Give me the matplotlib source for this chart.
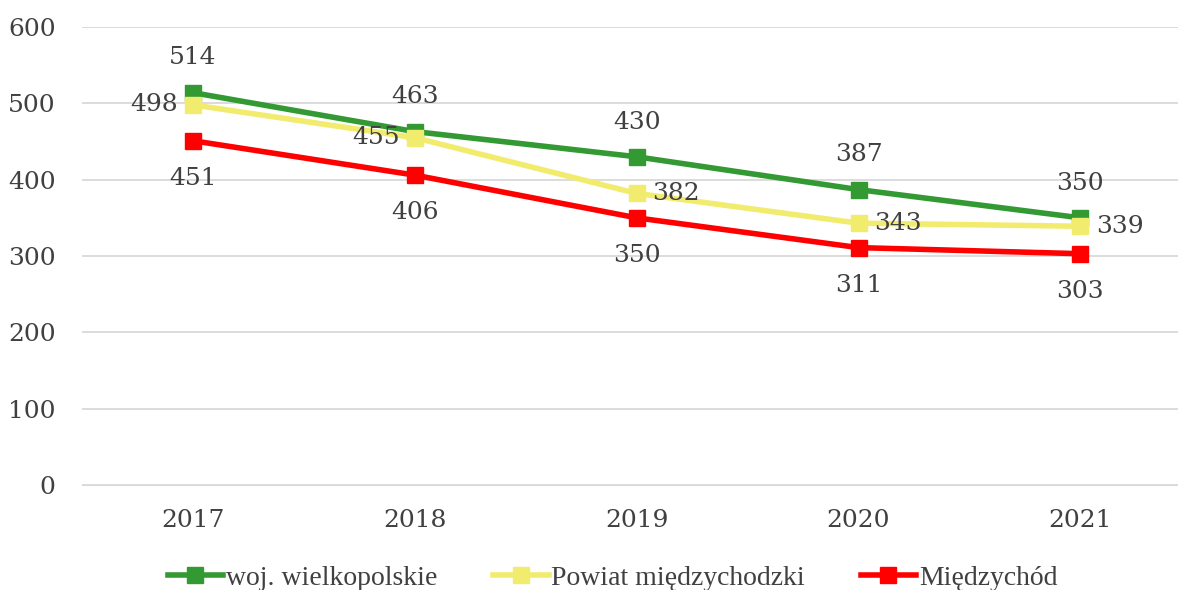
import numpy as np
import matplotlib.pyplot as plt

years = ['2017', '2018', '2019', '2020', '2021']
woj = [514, 463, 430, 387, 350]
powiat = [498, 455, 382, 343, 339]
miedzychod = [451, 406, 350, 311, 303]
series_names = ['woj. wielkopolskie', 'Powiat międzychodzki', 'Międzychód']

plt.rcParams['font.family'] = ['DejaVu Serif']
text_color = '#404040'
fs = 18

fig = plt.figure(figsize=(11.78, 5.9), dpi=100)
ax = fig.add_axes([82 / 1178, 1 - 485 / 590, 1 - 82 / 1178, (485 - 27) / 590])

x = np.arange(len(years))
colors = ['#339933', '#F2EC6E', '#FF0000']
data = [woj, powiat, miedzychod]
for vals, col, name in zip(data, colors, series_names):
    ax.plot(x, vals, color=col, lw=4, marker='s', ms=11, label=name, zorder=3)

# labels: green above, red below, yellow left/right
for a, b in zip(x, woj):
    ax.annotate(str(b), (a, b), xytext=(0, 25), textcoords='offset points',
                ha='center', va='center', fontsize=fs, color=text_color)
for a, b in zip(x, miedzychod):
    ax.annotate(str(b), (a, b), xytext=(0, -27), textcoords='offset points',
                ha='center', va='center', fontsize=fs, color=text_color)
for i, (a, b) in enumerate(zip(x, powiat)):
    if i < 2:
        ax.annotate(str(b), (a, b), xytext=(-11, 0), textcoords='offset points',
                    ha='right', va='center', fontsize=fs, color=text_color)
    else:
        ax.annotate(str(b), (a, b), xytext=(11, 0), textcoords='offset points',
                    ha='left', va='center', fontsize=fs, color=text_color)

ax.set_ylim(0, 600)
ax.set_yticks(range(0, 601, 100))
ax.set_xlim(-0.5, 4.44)
ax.set_xticks(x)
ax.set_xticklabels(years)
ax.tick_params(axis='both', length=0, labelsize=fs, colors=text_color)
ax.tick_params(axis='x', pad=17)
ax.tick_params(axis='y', pad=19)
ax.grid(axis='y', color='#d9d9d9', lw=1.3)
for s in ax.spines.values():
    s.set_visible(False)
ax.spines['bottom'].set_visible(True)
ax.spines['bottom'].set_color('#d9d9d9')
ax.set_axisbelow(True)

fig.legend(loc='center', bbox_to_anchor=(0.52, 1 - 578 / 590), ncol=3, frameon=False,
           prop={'family': 'Liberation Serif', 'size': 20}, handlelength=2.0,
           columnspacing=2.0, handletextpad=0.1, labelcolor=text_color)

fig.savefig('out.png', dpi=100)
